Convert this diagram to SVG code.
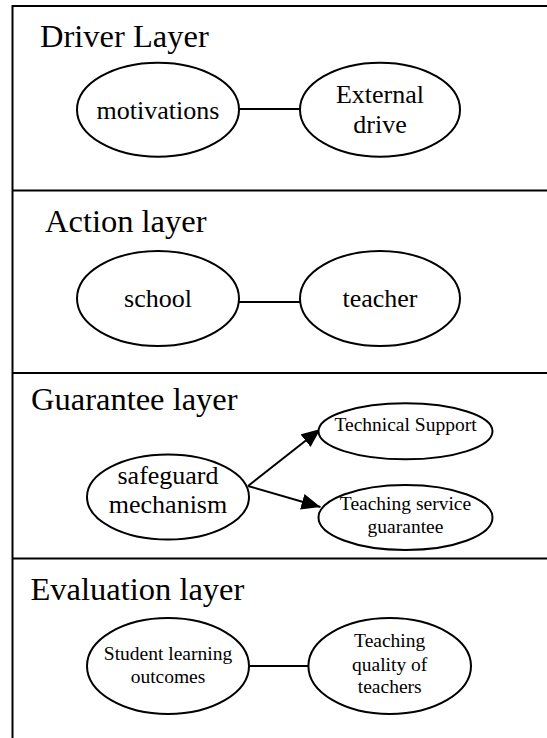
<svg xmlns="http://www.w3.org/2000/svg" width="547" height="738" viewBox="0 0 547 738">
<style>
.frame{fill:none;stroke:#000;stroke-width:2}
.node{fill:#fff;stroke:#000;stroke-width:2}
.edge{fill:none;stroke:#000;stroke-width:2}
.lab{font-size:32.5px}
.t26{font-size:26px;text-anchor:middle}
.t19{font-size:19.5px;text-anchor:middle}
</style>
<defs>
<marker id="arr" markerUnits="userSpaceOnUse" markerWidth="22" markerHeight="18" refX="19" refY="8" orient="auto">
<path d="M0,0 L19,8 L0,16 Z" fill="#000"/>
</marker>
</defs>
<rect width="547" height="738" fill="#fff"/>
<g id="frame">
<path class="frame" d="M12.5,738 V6 H549"/>
<line class="frame" x1="12.5" y1="190.5" x2="549" y2="190.5"/>
<line class="frame" x1="12.5" y1="373" x2="549" y2="373"/>
<line class="frame" x1="12.5" y1="558.5" x2="549" y2="558.5"/>
</g>
<g id="connectors">
<line class="edge" x1="239" y1="109" x2="300" y2="109"/>
<line class="edge" x1="239" y1="302" x2="300" y2="302"/>
<line class="edge" x1="248" y1="486" x2="320.5" y2="429" marker-end="url(#arr)"/>
<line class="edge" x1="248" y1="486" x2="320.5" y2="507" marker-end="url(#arr)"/>
<line class="edge" x1="249" y1="666" x2="308" y2="666"/>
</g>
<g font-family="'Liberation Serif', 'Times New Roman', Times, serif" fill="#000">
<g id="labels">
<text class="lab" x="40" y="46.7">Driver Layer</text>
<text class="lab" x="45" y="231.7">Action layer</text>
<text class="lab" x="31" y="410">Guarantee layer</text>
<text class="lab" x="30.5" y="600">Evaluation layer</text>
</g>
<g id="motivations">
<ellipse class="node" cx="158" cy="109.7" rx="81" ry="47"/>
<text class="t26" x="158" y="119">motivations</text>
</g>
<g id="external-drive">
<ellipse class="node" cx="380" cy="109.7" rx="80" ry="47"/>
<text class="t26" x="380" y="103.3">External</text>
<text class="t26" x="380" y="133.3">drive</text>
</g>
<g id="school">
<ellipse class="node" cx="158" cy="298.5" rx="81" ry="47.5"/>
<text class="t26" x="158" y="307">school</text>
</g>
<g id="teacher">
<ellipse class="node" cx="380" cy="298.5" rx="80" ry="47.5"/>
<text class="t26" x="380" y="307">teacher</text>
</g>
<g id="safeguard-mechanism">
<ellipse class="node" cx="168" cy="497" rx="81" ry="42.5"/>
<text class="t26" x="168" y="484">safeguard</text>
<text class="t26" x="168" y="513">mechanism</text>
</g>
<g id="technical-support">
<ellipse class="node" cx="405.5" cy="431.3" rx="87" ry="28"/>
<text class="t19" x="405.5" y="430.5">Technical Support</text>
</g>
<g id="teaching-service-guarantee">
<ellipse class="node" cx="405.5" cy="517.5" rx="87" ry="32.5"/>
<text class="t19" x="405.5" y="510">Teaching service</text>
<text class="t19" x="405.5" y="533.3">guarantee</text>
</g>
<g id="student-learning-outcomes">
<ellipse class="node" cx="168" cy="666" rx="81" ry="48"/>
<text class="t19" x="168" y="660">Student learning</text>
<text class="t19" x="168" y="682.7">outcomes</text>
</g>
<g id="teaching-quality">
<ellipse class="node" cx="389.7" cy="666" rx="81.3" ry="48"/>
<text class="t19" x="389.7" y="647.3">Teaching</text>
<text class="t19" x="389.7" y="670.7">quality of</text>
<text class="t19" x="389.7" y="693.3">teachers</text>
</g>
</g>
</svg>
